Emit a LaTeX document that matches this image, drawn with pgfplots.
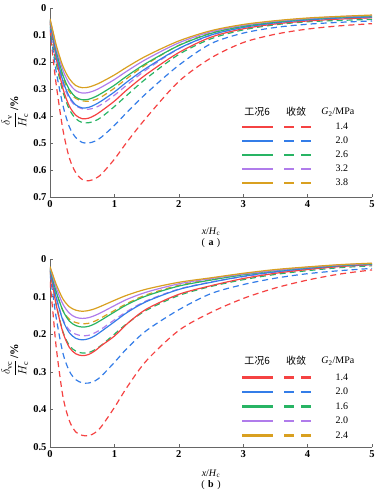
\documentclass[border=0pt]{standalone}
\usepackage{fontspec}
\setmainfont{Liberation Serif}
\newfontfamily\cjk{Noto Sans CJK SC}
\usepackage{pgfplots}
\pgfplotsset{compat=1.18}
\definecolor{cR}{RGB}{245,66,66}
\definecolor{cB}{RGB}{52,125,232}
\definecolor{cG}{RGB}{40,180,100}
\definecolor{cP}{RGB}{176,124,235}
\definecolor{cO}{RGB}{217,160,32}
\pgfplotsset{
  base/.style={scale only axis, width=322pt, xmin=0, xmax=5, y dir=reverse,
    axis x line*=bottom, axis y line*=left, clip mode=individual,
    axis line style={-, draw=black!60, line width=0.8pt},
    tick align=inside, major tick length=3pt,
    tick style={draw=black!60, line width=0.6pt},
    xtick={0,1,2,3,4,5},
    ticklabel style={font=\bfseries\fontsize{10.5}{12}\selectfont},
    /pgf/number format/assume math mode=true,
    /pgf/number format/fixed,
    legend style={draw=none, fill=none, legend columns=2, inner sep=0pt,
      font=\fontsize{10}{12}\selectfont,
      nodes={inner sep=1pt, text height=7pt, text depth=2pt},
      row sep=3pt,
      /tikz/column 1/.style={column sep=0pt},
      /tikz/column 2/.style={column sep=9pt},
      /tikz/column 3/.style={column sep=24pt}},
    every axis plot/.append style={line width=1.2pt},
  },
  sol/.style={legend image code/.code={\fill[##1] (0pt,-0.7pt) rectangle (30pt,0.7pt);}},
  das/.style={legend image code/.code={\fill[##1] (0pt,-0.7pt) rectangle (8pt,0.7pt) (17pt,-0.7pt) rectangle (25pt,0.7pt);}},
  dsh/.style={dash pattern=on 6pt off 4pt},
}
\begin{document}
\begin{tikzpicture}
\path[use as bounding box] (0,0) rectangle (388pt,501pt);
% ---------------- (a)
\begin{axis}[base, at={(50pt,304pt)}, anchor=south west, height=189pt,
  ymin=0, ymax=0.7, ytick={0,0.1,0.2,0.3,0.4,0.5,0.6,0.7},
  legend style={at={(axis description cs:0.596,0.40)}, anchor=north west}]
\addplot[cR,dsh,smooth,forget plot] coordinates {(0,0.080)(0.05,0.190)(0.1,0.290)(0.2,0.450)(0.3,0.555)(0.4,0.610)(0.5,0.635)(0.6,0.640)(0.7,0.632)(0.8,0.615)(1.0,0.560)(1.2,0.495)(1.5,0.405)(2.0,0.272)(2.5,0.185)(3.0,0.128)(3.5,0.097)(4.0,0.078)(4.5,0.066)(5.0,0.058)};
\addplot[cB,dsh,smooth,forget plot] coordinates {(0,0.070)(0.05,0.160)(0.1,0.240)(0.2,0.360)(0.3,0.440)(0.4,0.480)(0.5,0.498)(0.6,0.500)(0.7,0.493)(0.8,0.478)(1.0,0.435)(1.2,0.385)(1.5,0.315)(2.0,0.212)(2.5,0.132)(3.0,0.093)(3.5,0.072)(4.0,0.060)(4.5,0.053)(5.0,0.048)};
\addplot[cG,dsh,smooth,forget plot] coordinates {(0,0.060)(0.05,0.140)(0.1,0.210)(0.2,0.310)(0.3,0.375)(0.4,0.410)(0.5,0.424)(0.6,0.425)(0.7,0.418)(0.8,0.404)(1.0,0.365)(1.2,0.322)(1.5,0.260)(2.0,0.172)(2.5,0.114)(3.0,0.081)(3.5,0.062)(4.0,0.051)(4.5,0.046)(5.0,0.042)};
\addplot[cP,dsh,smooth,forget plot] coordinates {(0,0.055)(0.05,0.125)(0.1,0.190)(0.2,0.280)(0.3,0.335)(0.4,0.362)(0.5,0.373)(0.6,0.375)(0.7,0.369)(0.8,0.357)(1.0,0.323)(1.2,0.284)(1.5,0.228)(2.0,0.151)(2.5,0.101)(3.0,0.072)(3.5,0.055)(4.0,0.045)(4.5,0.040)(5.0,0.036)};
\addplot[cO,dsh,smooth,forget plot] coordinates {(0,0.050)(0.05,0.115)(0.1,0.175)(0.2,0.258)(0.3,0.310)(0.4,0.335)(0.5,0.344)(0.6,0.345)(0.7,0.340)(0.8,0.329)(1.0,0.297)(1.2,0.260)(1.5,0.208)(2.0,0.138)(2.5,0.092)(3.0,0.065)(3.5,0.049)(4.0,0.040)(4.5,0.035)(5.0,0.032)};
\addplot[cR,smooth,forget plot] coordinates {(0,0.050)(0.05,0.120)(0.1,0.190)(0.2,0.298)(0.3,0.363)(0.4,0.397)(0.5,0.410)(0.6,0.408)(0.7,0.397)(0.8,0.381)(1.0,0.345)(1.2,0.302)(1.5,0.245)(2.0,0.165)(2.5,0.108)(3.0,0.077)(3.5,0.059)(4.0,0.048)(4.5,0.041)(5.0,0.036)};
\addplot[cB,smooth,forget plot] coordinates {(0,0.048)(0.05,0.110)(0.1,0.175)(0.2,0.270)(0.3,0.328)(0.4,0.359)(0.5,0.370)(0.6,0.368)(0.7,0.358)(0.8,0.344)(1.0,0.311)(1.2,0.273)(1.5,0.222)(2.0,0.150)(2.5,0.100)(3.0,0.072)(3.5,0.055)(4.0,0.044)(4.5,0.037)(5.0,0.033)};
\addplot[cG,smooth,forget plot] coordinates {(0,0.045)(0.05,0.100)(0.1,0.160)(0.2,0.248)(0.3,0.302)(0.4,0.330)(0.5,0.340)(0.6,0.338)(0.7,0.329)(0.8,0.316)(1.0,0.286)(1.2,0.251)(1.5,0.204)(2.0,0.139)(2.5,0.094)(3.0,0.068)(3.5,0.052)(4.0,0.041)(4.5,0.034)(5.0,0.030)};
\addplot[cP,smooth,forget plot] coordinates {(0,0.042)(0.05,0.095)(0.1,0.150)(0.2,0.230)(0.3,0.280)(0.4,0.306)(0.5,0.315)(0.6,0.313)(0.7,0.305)(0.8,0.293)(1.0,0.265)(1.2,0.233)(1.5,0.189)(2.0,0.129)(2.5,0.088)(3.0,0.064)(3.5,0.049)(4.0,0.039)(4.5,0.032)(5.0,0.028)};
\addplot[cO,smooth,forget plot] coordinates {(0,0.040)(0.05,0.090)(0.1,0.140)(0.2,0.215)(0.3,0.262)(0.4,0.287)(0.5,0.295)(0.6,0.293)(0.7,0.285)(0.8,0.274)(1.0,0.248)(1.2,0.218)(1.5,0.177)(2.0,0.122)(2.5,0.084)(3.0,0.061)(3.5,0.047)(4.0,0.037)(4.5,0.031)(5.0,0.026)};
\addlegendimage{cR,sol}\addlegendentry{}
\addlegendimage{cR,das}\addlegendentry{1.4}
\addlegendimage{cB,sol}\addlegendentry{}
\addlegendimage{cB,das}\addlegendentry{2.0}
\addlegendimage{cG,sol}\addlegendentry{}
\addlegendimage{cG,das}\addlegendentry{2.6}
\addlegendimage{cP,sol}\addlegendentry{}
\addlegendimage{cP,das}\addlegendentry{3.2}
\addlegendimage{cO,sol}\addlegendentry{}
\addlegendimage{cO,das}\addlegendentry{3.8}
\node[font=\fontsize{10}{12}\selectfont] at (axis description cs:0.643,0.45) {\cjk 工况6};
\node[font=\fontsize{10}{12}\selectfont] at (axis description cs:0.764,0.45) {\cjk 收敛};
\node[font=\fontsize{10}{12}\selectfont] at (axis description cs:0.894,0.45) {\textit{G}\textsubscript{2}/MPa};
\node[rotate=90,font=\fontsize{11.5}{13}\selectfont] at (axis description cs:-0.109,0.45) {$\displaystyle\frac{\delta_{\mathrm{v}}}{H_{\mathrm{c}}}$\,\textbf{/\%}};
\node[font=\fontsize{10}{12}\selectfont] at (axis description cs:0.5,-0.185) {\textit{x}/\textit{H}\textsubscript{c}};
\node[font=\fontsize{10}{12}\selectfont] at (axis description cs:0.5,-0.245) {(\hspace{0.35em}\textbf{a}\hspace{0.35em})};
\end{axis}
% ---------------- (b)
\begin{axis}[base, at={(50pt,54pt)}, anchor=south west, height=188pt,
  ymin=0, ymax=0.5, ytick={0,0.1,0.2,0.3,0.4,0.5},
  legend style={at={(axis description cs:0.596,0.40)}, anchor=north west, row sep=3.5pt}]
\addplot[cR,dsh,smooth,forget plot] coordinates {(0,0.060)(0.05,0.150)(0.1,0.240)(0.2,0.365)(0.3,0.430)(0.4,0.460)(0.5,0.469)(0.6,0.470)(0.7,0.462)(0.8,0.445)(1.0,0.395)(1.2,0.340)(1.5,0.270)(2.0,0.190)(2.5,0.142)(3.0,0.105)(3.5,0.077)(4.0,0.056)(4.5,0.040)(5.0,0.029)};
\addplot[cB,dsh,smooth,forget plot] coordinates {(0,0.040)(0.05,0.100)(0.1,0.160)(0.2,0.250)(0.3,0.298)(0.4,0.321)(0.5,0.329)(0.6,0.330)(0.7,0.324)(0.8,0.311)(1.0,0.275)(1.2,0.237)(1.5,0.190)(2.0,0.135)(2.5,0.092)(3.0,0.068)(3.5,0.051)(4.0,0.039)(4.5,0.031)(5.0,0.025)};
\addplot[cG,dsh,smooth,forget plot] coordinates {(0,0.032)(0.05,0.078)(0.1,0.124)(0.2,0.193)(0.3,0.230)(0.4,0.245)(0.5,0.250)(0.6,0.249)(0.7,0.241)(0.8,0.229)(1.0,0.200)(1.2,0.171)(1.5,0.136)(2.0,0.097)(2.5,0.073)(3.0,0.055)(3.5,0.041)(4.0,0.031)(4.5,0.023)(5.0,0.018)};
\addplot[cP,dsh,smooth,forget plot] coordinates {(0,0.028)(0.05,0.066)(0.1,0.104)(0.2,0.160)(0.3,0.189)(0.4,0.200)(0.5,0.204)(0.6,0.203)(0.7,0.196)(0.8,0.186)(1.0,0.162)(1.2,0.139)(1.5,0.111)(2.0,0.080)(2.5,0.061)(3.0,0.047)(3.5,0.035)(4.0,0.026)(4.5,0.020)(5.0,0.016)};
\addplot[cO,dsh,smooth,forget plot] coordinates {(0,0.025)(0.05,0.058)(0.1,0.090)(0.2,0.137)(0.3,0.160)(0.4,0.169)(0.5,0.172)(0.6,0.171)(0.7,0.165)(0.8,0.156)(1.0,0.137)(1.2,0.118)(1.5,0.095)(2.0,0.070)(2.5,0.054)(3.0,0.042)(3.5,0.032)(4.0,0.024)(4.5,0.018)(5.0,0.014)};
\addplot[cR,smooth,forget plot] coordinates {(0,0.032)(0.05,0.078)(0.1,0.125)(0.2,0.195)(0.3,0.235)(0.4,0.252)(0.5,0.257)(0.6,0.254)(0.7,0.244)(0.8,0.230)(1.0,0.205)(1.2,0.172)(1.5,0.133)(2.0,0.094)(2.5,0.071)(3.0,0.052)(3.5,0.038)(4.0,0.028)(4.5,0.020)(5.0,0.015)};
\addplot[cB,smooth,forget plot] coordinates {(0,0.028)(0.05,0.066)(0.1,0.105)(0.2,0.163)(0.3,0.196)(0.4,0.211)(0.5,0.215)(0.6,0.212)(0.7,0.204)(0.8,0.192)(1.0,0.167)(1.2,0.142)(1.5,0.113)(2.0,0.081)(2.5,0.062)(3.0,0.046)(3.5,0.034)(4.0,0.025)(4.5,0.018)(5.0,0.014)};
\addplot[cG,smooth,forget plot] coordinates {(0,0.025)(0.05,0.057)(0.1,0.089)(0.2,0.137)(0.3,0.165)(0.4,0.177)(0.5,0.181)(0.6,0.179)(0.7,0.172)(0.8,0.162)(1.0,0.141)(1.2,0.121)(1.5,0.098)(2.0,0.072)(2.5,0.056)(3.0,0.042)(3.5,0.031)(4.0,0.023)(4.5,0.017)(5.0,0.013)};
\addplot[cP,smooth,forget plot] coordinates {(0,0.022)(0.05,0.050)(0.1,0.078)(0.2,0.120)(0.3,0.144)(0.4,0.155)(0.5,0.158)(0.6,0.156)(0.7,0.150)(0.8,0.142)(1.0,0.124)(1.2,0.107)(1.5,0.088)(2.0,0.066)(2.5,0.052)(3.0,0.040)(3.5,0.030)(4.0,0.022)(4.5,0.016)(5.0,0.012)};
\addplot[cO,smooth,forget plot] coordinates {(0,0.020)(0.05,0.045)(0.1,0.069)(0.2,0.106)(0.3,0.127)(0.4,0.136)(0.5,0.139)(0.6,0.137)(0.7,0.132)(0.8,0.125)(1.0,0.110)(1.2,0.096)(1.5,0.080)(2.0,0.062)(2.5,0.050)(3.0,0.038)(3.5,0.028)(4.0,0.021)(4.5,0.015)(5.0,0.011)};
\addlegendimage{cR,sol}\addlegendentry{}
\addlegendimage{cR,das}\addlegendentry{1.4}
\addlegendimage{cB,sol}\addlegendentry{}
\addlegendimage{cB,das}\addlegendentry{2.0}
\addlegendimage{cG,sol}\addlegendentry{}
\addlegendimage{cG,das}\addlegendentry{1.6}
\addlegendimage{cP,sol}\addlegendentry{}
\addlegendimage{cP,das}\addlegendentry{2.0}
\addlegendimage{cO,sol}\addlegendentry{}
\addlegendimage{cO,das}\addlegendentry{2.4}
\node[font=\fontsize{10}{12}\selectfont] at (axis description cs:0.643,0.457) {\cjk 工况6};
\node[font=\fontsize{10}{12}\selectfont] at (axis description cs:0.764,0.457) {\cjk 收敛};
\node[font=\fontsize{10}{12}\selectfont] at (axis description cs:0.894,0.457) {\textit{G}\textsubscript{2}/MPa};
\node[rotate=90,font=\fontsize{11.5}{13}\selectfont] at (axis description cs:-0.109,0.463) {$\displaystyle\frac{\delta_{\mathrm{vc}}}{H_{\mathrm{c}}}$\,\textbf{/\%}};
\node[font=\fontsize{10}{12}\selectfont] at (axis description cs:0.5,-0.142) {\textit{x}/\textit{H}\textsubscript{c}};
\node[font=\fontsize{10}{12}\selectfont] at (axis description cs:0.5,-0.200) {(\hspace{0.35em}\textbf{b}\hspace{0.35em})};
\end{axis}
\end{tikzpicture}
\end{document}
